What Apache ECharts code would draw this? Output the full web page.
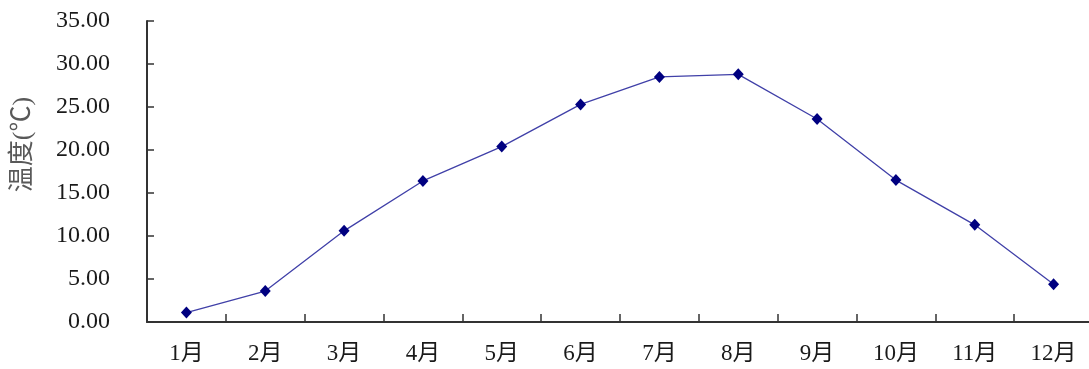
<!DOCTYPE html>
<html><head><meta charset="utf-8">
<script src="https://cdn.jsdelivr.net/npm/echarts@6/dist/echarts.min.js"></script>
<style>html,body{margin:0;padding:0;background:#fff}#c{width:1089px;height:369px}</style>
</head><body><div id="c"></div>
<script>
const categories = ['1月','2月','3月','4月','5月','6月','7月','8月','9月','10月','11月','12月'];
const temperature = [1.1, 3.6, 10.6, 16.4, 20.4, 25.3, 28.5, 28.8, 23.6, 16.5, 11.3, 4.4];
const yAxisName = '温度(℃)';
const fontFam = '"Liberation Serif", "Noto Sans CJK SC", serif';
const chart = echarts.init(document.getElementById('c'));
chart.setOption({
  animation: false,
  backgroundColor: '#fff',
  grid: { left: 147, right: -4, top: 21, bottom: 47, containLabel: false, outerBoundsMode: 'none' },
  xAxis: {
    type: 'category', data: categories, boundaryGap: true,
    axisLine: { lineStyle: { color: '#333', width: 2 } },
    axisTick: { show: true, interval: 0, inside: true, length: 8, lineStyle: { color: '#333', width: 1.5 } },
    axisLabel: { interval: 0, margin: 20, fontSize: 23, color: '#1a1a1a', fontFamily: fontFam }
  },
  yAxis: {
    type: 'value', min: 0, max: 35, interval: 5,
    name: yAxisName, nameLocation: 'middle', nameRotate: 90, nameGap: 111,
    nameTextStyle: { fontSize: 26, color: '#595959', fontFamily: fontFam, padding: [0, 0, 0, 54] },
    axisLine: { show: true, lineStyle: { color: '#333', width: 2 } },
    axisTick: { show: true, inside: true, length: 7, lineStyle: { color: '#333', width: 1.5 } },
    splitLine: { show: false },
    axisLabel: { margin: 37, fontSize: 24, color: '#1a1a1a', fontFamily: fontFam,
      formatter: v => v.toFixed(2) }
  },
  series: [{
    type: 'line', data: temperature,
    symbol: 'diamond', symbolSize: [11, 12],
    itemStyle: { color: '#000080' },
    lineStyle: { color: '#4040a8', width: 1.3 }
  }]
});
</script></body></html>
